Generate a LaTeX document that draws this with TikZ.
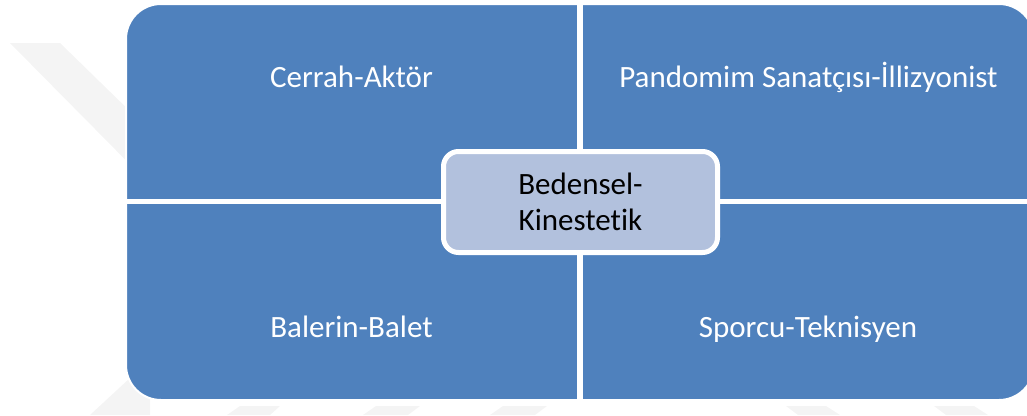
\documentclass[tikz,border=0pt]{standalone}
\usepackage{fontspec}
\setmainfont{Carlito}[Ligatures={NoCommon}]
\definecolor{quadblue}{RGB}{79,129,189}
\definecolor{hubfill}{RGB}{178,193,221}
\definecolor{wmgrey}{RGB}{244,244,244}
\begin{document}
\begin{tikzpicture}[x=1pt,y=-1pt,
  quadtext/.style={anchor=base,text=white,font=\fontsize{31}{36}\selectfont,inner sep=0pt},
  hubbox/.style={draw=white,fill=hubfill,line width=5pt,rounded corners=15pt,
    minimum width=274pt,minimum height=101pt,inner sep=0pt,align=center,
    font=\fontsize{31}{36}\selectfont,text=black},
  gap/.style={draw=white,line width=6pt},
  wm/.style={fill=wmgrey}]
\useasboundingbox (0,0) rectangle (1027,415);
\clip (0,0) rectangle (1027,415);
% faint watermark
\fill[wm] (10,43) -- (60,43) -- (180,160) -- (180,215) -- cycle;
\fill[wm] (90,415) -- (130,378) -- (150,378) -- (150,415) -- cycle;
\fill[wm] (227,415) -- (240,406) -- (280,406) -- (270,415) -- cycle;
\fill[wm] (363,415) -- (376,406) -- (420,406) -- (408,415) -- cycle;
\fill[wm] (490,415) -- (503,406) -- (547,406) -- (535,415) -- cycle;
\fill[wm] (786,406) -- (826,406) -- (840,415) -- (798,415) -- cycle;
\fill[wm] (934,406) -- (974,406) -- (988,415) -- (946,415) -- cycle;
% quadrants
\path[fill=quadblue,draw=white,line width=2pt,rounded corners=35pt] (126,4) rectangle (1034,400);
\coordinate (vtop) at (580,0);
\coordinate (vbot) at (580,415);
\coordinate (hleft) at (110,201.5);
\coordinate (hright) at (1040,201.5);
\draw[gap] (vtop) -- (vbot);
\draw[gap,line width=5pt] (hleft) -- (hright);
% texts
\node[quadtext] (tl) at (351.5,87) {Cerrah-Aktör};
\node[quadtext] (tr) at (808.5,87) {Pandomim Sanatçısı-İllizyonist};
\node[quadtext] (bl) at (351.5,337) {Balerin-Balet};
\node[quadtext] (br) at (808,337) {Sporcu-Teknisyen};
% hub
\node[hubbox] (hub) at (580.5,202) {Bedensel-\\Kinestetik};
\end{tikzpicture}
\end{document}
